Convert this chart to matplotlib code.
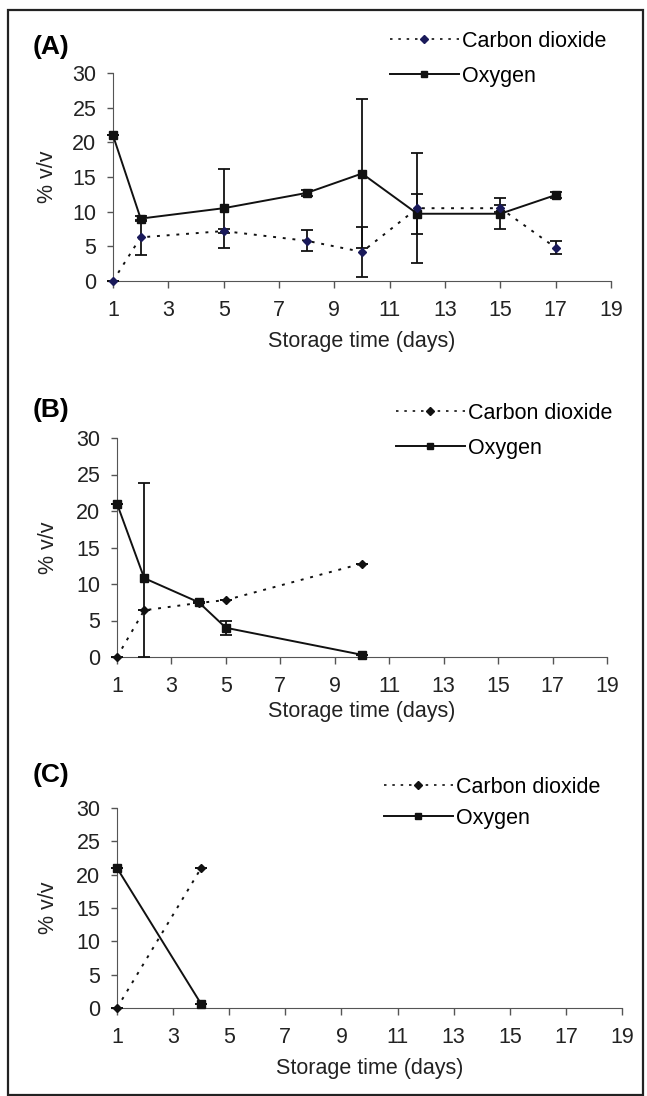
import matplotlib.pyplot as plt
from matplotlib.lines import Line2D
from matplotlib.patches import Rectangle

plt.rcParams["font.family"] = ["Liberation Sans", "DejaVu Sans"]

# Panel A
days_a = [1, 2, 5, 8, 10, 12, 15, 17]
co2_a = [0.0, 6.3, 7.2, 5.8, 4.2, 10.5, 10.5, 4.8]
co2_err_a = [0.0, 2.5, 0.3, 1.5, 3.6, 7.9, 0.5, 0.9]
o2_a = [21.0, 9.0, 10.5, 12.7, 15.5, 9.7, 9.7, 12.4]
o2_err_a = [0.0, 0.4, 5.7, 0.4, 10.7, 2.85, 2.2, 0.5]

# Panel B
days_b = [1, 2, 4, 5, 10]
co2_b = [0.0, 6.4, 7.4, 7.8, 12.8]
co2_err_b = [0.0, 0.0, 0.0, 0.0, 0.0]
o2_b = [21.0, 10.8, 7.5, 4.0, 0.3]
o2_err_b = [0.0, 13.0, 0.0, 1.0, 0.0]

# Panel C
days_c = [1, 4]
co2_c = [0.0, 21.0]
co2_err_c = [0.0, 0.0]
o2_c = [21.0, 0.6]
o2_err_c = [0.0, 0.0]

panel_tags = ["(A)", "(B)", "(C)"]
x_ticks = list(range(1, 20, 2))
y_ticks = list(range(0, 31, 5))

W, H = 647, 1096


def px_box(left, right, top, bottom):
    return (left / W, 1 - bottom / H, (right - left) / W, (bottom - top) / H)


# layout measured in pixels of the reference
layouts = [
    dict(box=(113, 611, 73, 281), tag_y=47, leg=(390, 31, 0.64), xlab=50, co2_color="#1a1a5a"),
    dict(box=(117, 607, 438, 657), tag_y=410, leg=(396, 403, 0.64), xlab=44, co2_color="#111111"),
    dict(box=(117, 622, 808, 1008), tag_y=775, leg=(384, 777, 0.46), xlab=50, co2_color="#111111"),
]
series = [
    (days_a, co2_a, co2_err_a, o2_a, o2_err_a),
    (days_b, co2_b, co2_err_b, o2_b, o2_err_b),
    (days_c, co2_c, co2_err_c, o2_c, o2_err_c),
]

fig = plt.figure(figsize=(W / 100, H / 100), dpi=100)
fig.patches.append(Rectangle((8 / W, 1 / H), 635 / W, 1085 / H, transform=fig.transFigure,
                             fill=False, edgecolor="#222222", linewidth=1.6))

dotted = (0, (1.5, 3.5))
for tag, lay, (days, co2, co2_err, o2, o2_err) in zip(panel_tags, layouts, series):
    left, right, top, bottom = lay["box"]
    ax = fig.add_axes(px_box(left, right, top, bottom))
    # error bars do not go below the axis
    o2_yerr = [[min(e, v) for e, v in zip(o2_err, o2)], o2_err]
    co2_yerr = [[min(e, v) for e, v in zip(co2_err, co2)], co2_err]
    ax.errorbar(days, o2, yerr=o2_yerr, color="#111111", linewidth=1.4, marker="s",
                markersize=5.5, capsize=4.5, capthick=1.3, elinewidth=1.3, clip_on=False,
                zorder=3)
    ax.errorbar(days, co2, yerr=co2_yerr, color="#111111", linewidth=1.4, linestyle=dotted,
                marker="D", markersize=4.5, markerfacecolor=lay["co2_color"],
                markeredgecolor=lay["co2_color"], capsize=4.5, capthick=1.3, elinewidth=1.3,
                clip_on=False, zorder=4)
    ax.set_xlim(1, 19)
    ax.set_ylim(0, 30)
    ax.set_xticks(x_ticks)
    ax.set_yticks(y_ticks)
    for side in ["top", "right"]:
        ax.spines[side].set_visible(False)
    for side in ["left", "bottom"]:
        ax.spines[side].set_color("#555555")
    ax.tick_params(axis="x", direction="out", length=5, width=1, pad=9, color="#555555",
                   labelsize=15.5, labelcolor="#222222")
    ax.tick_params(axis="y", direction="out", length=4.5, width=1, pad=7.5, color="#555555",
                   labelsize=15.5, labelcolor="#222222")
    h_px = bottom - top
    w_px = right - left
    ax.set_xlabel("Storage time (days)", fontsize=15.5, color="#222222")
    ax.xaxis.set_label_coords(0.5, -lay["xlab"] / h_px)
    ax.set_ylabel("% v/v", fontsize=15.5, color="#222222")
    ax.yaxis.set_label_coords(-(left - 48) / w_px, 0.5)
    ax.yaxis.label.set_va("center")
    fig.text(33 / W, 1 - lay["tag_y"] / H, tag, fontsize=19, fontweight="bold", va="center",
             ha="left")
    handles = [
        Line2D([], [], color="#111111", linewidth=1.2, linestyle=dotted, marker="D",
               markersize=4.5, markerfacecolor=lay["co2_color"],
               markeredgecolor=lay["co2_color"]),
        Line2D([], [], color="#111111", linewidth=1.4, marker="s", markersize=5),
    ]
    leg_x, leg_y, spacing = lay["leg"]
    ax.legend(handles, ["Carbon dioxide", "Oxygen"], loc="upper left",
              bbox_to_anchor=(leg_x / W, 1 - leg_y / H), bbox_transform=fig.transFigure,
              frameon=False, fontsize=15.5, borderpad=0, borderaxespad=0,
              handlelength=3.2, handletextpad=0.15, labelspacing=spacing)

fig.savefig("out.png", dpi=100)
